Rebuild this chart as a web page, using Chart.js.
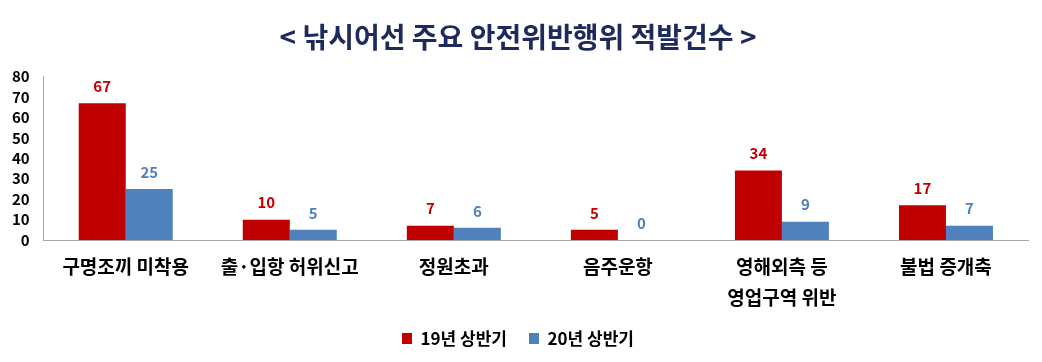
<!DOCTYPE html>
<html>
<head>
<meta charset="utf-8">
<script src="https://cdn.jsdelivr.net/npm/chart.js@4/dist/chart.umd.min.js"></script>
<style>
    html, body { margin: 0; padding: 0; background: #fff; }
    #wrap { width: 1042px; height: 362px; }
</style>
</head>
<body>
<div id="wrap"><canvas id="violationChart"></canvas></div>
<script>
const categories = ['구명조끼 미착용', '출·입항 허위신고', '정원초과', '음주운항', ['영해외측 등', '영업구역 위반'], '불법 증개축'];
const series2019 = [67, 10, 7, 5, 34, 17];
const series2020 = [25, 5, 6, 0, 9, 7];
const yTicks = [0, 10, 20, 30, 40, 50, 60, 70, 80];

const FONT = "'Noto Sans CJK KR', 'Noto Sans', sans-serif";

// value labels above each bar
const valueLabels = {
    id: 'valueLabels',
    afterDatasetsDraw(chart) {
        const ctx = chart.ctx;
        ctx.save();
        ctx.font = 'bold 15px ' + FONT;
        ctx.textAlign = 'center';
        ctx.textBaseline = 'middle';
        chart.data.datasets.forEach((ds, i) => {
            const meta = chart.getDatasetMeta(i);
            ctx.fillStyle = ds.labelColor;
            meta.data.forEach((bar, j) => {
                ctx.fillText(ds.data[j], bar.x, bar.y - 17);
            });
        });
        ctx.restore();
    }
};

const ctx = document.getElementById('violationChart');
new Chart(ctx, {
    type: 'bar',
    data: {
        labels: categories,
        datasets: [
            {
                label: '19년 상반기',
                data: series2019,
                backgroundColor: '#C00000',
                labelColor: '#C00000',
                barPercentage: 1,
                categoryPercentage: 0.573
            },
            {
                label: '20년 상반기',
                data: series2020,
                backgroundColor: '#4F81BD',
                labelColor: '#4F81BD',
                barPercentage: 1,
                categoryPercentage: 0.573
            }
        ]
    },
    options: {
        responsive: true,
        maintainAspectRatio: false,
        animation: false,
        layout: {
            padding: { left: 8, right: 14, top: 0, bottom: 5 }
        },
        scales: {
            y: {
                min: 0,
                max: 80,
                afterBuildTicks(axis) {
                    axis.ticks = yTicks.map(v => ({ value: v }));
                },
                afterFit(axis) {
                    axis.width -= 10;
                },
                grid: { display: false, drawTicks: false },
                border: { display: true, color: '#A6A6A6', width: 1 },
                ticks: {
                    color: '#000',
                    padding: 14,
                    autoSkip: false,
                    font: { family: FONT, size: 15, weight: 'bold' }
                }
            },
            x: {
                afterFit(axis) {
                    // let the second label line run into the legend band
                    axis.height -= 16;
                },
                grid: { display: false, drawTicks: false },
                border: { display: true, color: '#A6A6A6', width: 1 },
                ticks: {
                    color: '#000',
                    padding: 11,
                    maxRotation: 0,
                    autoSkip: false,
                    font: { family: FONT, size: 19, weight: 'bold', lineHeight: 1.63 }
                }
            }
        },
        plugins: {
            title: {
                display: true,
                text: '< 낚시어선 주요 안전위반행위 적발건수 >',
                color: '#1F2A5C',
                font: { family: FONT, size: 28, weight: 'bold' },
                padding: { top: 21, bottom: 22 }
            },
            legend: {
                position: 'bottom',
                labels: {
                    color: '#000',
                    boxWidth: 10,
                    boxHeight: 11,
                    padding: 22,
                    font: { family: FONT, size: 17, weight: 'bold' }
                }
            },
            tooltip: { enabled: false }
        }
    },
    plugins: [valueLabels]
});
</script>
</body>
</html>
